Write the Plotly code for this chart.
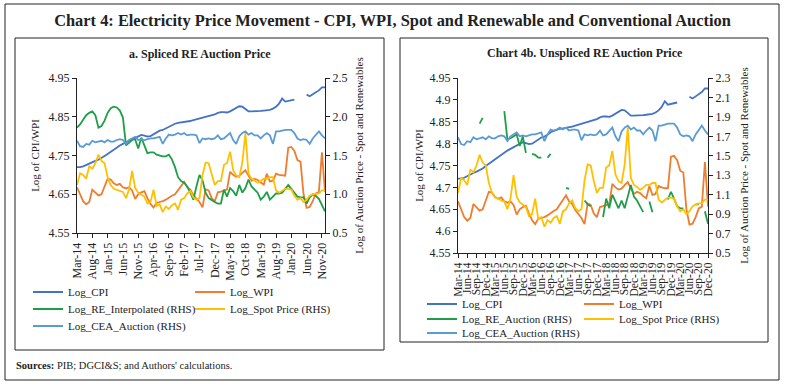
import plotly.graph_objects as go
import pandas as pd

W, H = 785, 386

# ---------------- data ----------------
months = pd.date_range("2014-03-01", "2020-12-01", freq="MS").strftime("%b-%y").tolist()

log_cpi = [4.720, 4.720, 4.722, 4.726, 4.730, 4.733, 4.736, 4.739, 4.743, 4.749,
           4.754, 4.760, 4.766, 4.771, 4.776, 4.780, 4.784, 4.788, 4.792, 4.796,
           4.800, 4.803, 4.801, 4.799, 4.800, 4.805, 4.810, 4.814, 4.816, 4.820,
           4.826, 4.829, 4.832, 4.834, 4.835, 4.836, 4.837, 4.839, 4.841, 4.843,
           4.845, 4.848, 4.849, 4.851, 4.853, 4.856, 4.860, 4.862, 4.862, 4.861,
           4.864, 4.868, 4.873, 4.877, 4.876, 4.870, 4.864, 4.864, 4.864, 4.864,
           4.865, 4.866, 4.867, 4.868, 4.871, 4.876, 4.884, 4.897, 4.889, 4.891,
           4.892, 4.894, None, None, None, 4.907, 4.903, 4.908, 4.913, 4.918,
           4.926, 4.926]

log_wpi = [4.668, 4.650, 4.632, 4.624, 4.630, 4.662, 4.655, 4.647, 4.650, 4.672,
           4.690, 4.688, 4.678, 4.674, 4.677, 4.668, 4.665, 4.668, 4.660, 4.638,
           4.650, 4.655, 4.658, 4.640, 4.625, 4.616, 4.628, 4.630, 4.632, 4.636,
           4.642, 4.646, 4.650, 4.660, 4.672, 4.682, 4.668, 4.662, 4.648, 4.640,
           4.630, 4.616, 4.663, 4.660, 4.640, 4.632, 4.655, 4.657, 4.660, 4.662,
           4.708, 4.700, 4.695, 4.697, 4.705, 4.712, 4.698, 4.685, 4.690, 4.687,
           4.680, 4.675, 4.703, 4.683, 4.685, 4.703, 4.700, 4.698, 4.698, 4.770,
           4.772, 4.762, 4.738, 4.734, 4.650, 4.615, 4.617, 4.632, 4.652, 4.656,
           4.758, 4.656]

log_re_interpolated = [1.86, 1.90, 1.96, 2.02, 2.05, 2.07, 2.02, 1.86, 1.88, 1.95,
                       2.05, 2.11, 2.13, 2.12, 2.08, 1.99, 1.63, 1.66, 1.70, 1.71,
                       1.59, 1.73, 1.62, 1.53, 1.54, 1.54, 1.51, 1.50, 1.49, 1.49,
                       1.51, 1.45, 1.35, 1.22, 1.17, 1.15, 1.10, 1.02, 0.93, 1.10,
                       1.25, 1.18, 1.02, 0.95, 0.92, 0.90, 0.88, 0.88, 1.06, 0.97,
                       1.08, 1.04, 0.98, 1.12, 1.02, 1.08, 1.19, 1.10, 1.06, 1.02,
                       0.93, 0.97, 1.03, 0.93, 0.97, 1.01, 1.01, 1.02, 1.07, 1.12,
                       1.07, 1.02, 0.97, 0.96, 0.96, 0.88, 0.96, 1.00, 0.98, 0.94,
                       0.86, 0.78]

N = None
log_re_auction = [N, N, N, N, N, N, N, 1.83, 1.89, N,
                  N, N, N, N, N, 1.96, 1.67, 1.68, 1.70, 1.72,
                  1.60, 1.70, 1.53, N, 1.52, 1.51, 1.48, 1.48, N, 1.48,
                  1.52, N, N, N, N, 1.17, 1.16, N, N, N,
                  N, 1.04, 1.00, 0.98, N, N, N, 0.87, 1.06, 0.96,
                  1.10, 1.03, 0.96, 1.04, 0.96, 1.08, 1.20, 1.08, 1.04, 0.98,
                  0.92, N, 1.03, 0.92, N, N, N, N, 1.05, 1.13,
                  1.06, 0.98, 0.96, 0.96, N, N, N, 1.00, 1.00, N,
                  0.93, 0.80]

log_spot = [1.12, 1.27, 1.25, 1.20, 1.36, 1.33, 1.40, 1.51, 1.43, 1.40,
            1.22, 1.12, 1.07, 1.06, 1.04, 1.03, 0.95, 1.06, 1.30, 1.08,
            1.02, 1.00, 0.97, 0.88, 0.90, 1.06, 0.85, 0.87, 0.77, 0.84,
            0.81, 0.86, 0.88, 0.80, 0.93, 0.95, 1.01, 1.04, 0.96, 0.93,
            0.95, 1.25, 1.41, 1.40, 1.24, 1.12, 1.17, 1.17, 1.38, 1.40,
            1.55, 1.31, 1.24, 1.22, 1.41, 1.79, 1.27, 1.20, 1.18, 1.15,
            1.17, 1.20, 1.20, 1.22, 1.22, 1.05, 1.02, 1.05, 1.07, 1.07,
            1.06, 0.98, 0.93, 0.95, 0.90, 0.93, 0.98, 1.00, 1.01, 1.01,
            1.05, 1.05]

log_cea = [1.69, 1.62, 1.61, 1.65, 1.64, 1.69, 1.67, 1.68, 1.69, 1.67,
           1.70, 1.68, 1.68, 1.70, 1.71, 1.70, 1.65, 1.70, 1.72, 1.74,
           1.70, 1.71, 1.70, 1.71, 1.72, 1.72, 1.73, 1.74, 1.65, 1.72,
           1.77, 1.76, 1.77, 1.79, 1.77, 1.79, 1.76, 1.77, 1.77, 1.76,
           1.66, 1.72, 1.71, 1.72, 1.71, 1.72, 1.76, 1.71, 1.72, 1.76,
           1.79, 1.70, 1.65, 1.75, 1.79, 1.81, 1.77, 1.79, 1.76, 1.76,
           1.72, 1.76, 1.79, 1.76, 1.65, 1.81, 1.81, 1.82, 1.83, 1.83,
           1.83, 1.79, 1.72, 1.70, 1.71, 1.70, 1.65, 1.72, 1.76, 1.81,
           1.76, 1.72]

left_ticks = months[::5]
right_ticks = months[::3]

# ---------------- styling ----------------
C_CPI, C_WPI, C_RE, C_SPOT, C_CEA = "#4472C4", "#ED7D31", "#1E9E48", "#FFC000", "#5B9BD5"
FONT = "Liberation Serif"
LW = 1.8


def px(x):
    return x / W


def py(y):
    return 1 - y / H


fig = go.Figure()

# left panel
fig.add_trace(go.Scatter(x=months, y=log_cpi, name="Log_CPI", mode="lines",
                         line=dict(color=C_CPI, width=LW), xaxis="x", yaxis="y", legend="legend"))
fig.add_trace(go.Scatter(x=months, y=log_wpi, name="Log_WPI", mode="lines",
                         line=dict(color=C_WPI, width=LW), xaxis="x", yaxis="y", legend="legend"))
fig.add_trace(go.Scatter(x=months, y=log_re_interpolated, name="Log_RE_Interpolated (RHS)", mode="lines",
                         line=dict(color=C_RE, width=LW), xaxis="x", yaxis="y2", legend="legend2"))
fig.add_trace(go.Scatter(x=months, y=log_spot, name="Log_Spot Price (RHS)", mode="lines",
                         line=dict(color=C_SPOT, width=LW), xaxis="x", yaxis="y2", legend="legend2"))
fig.add_trace(go.Scatter(x=months, y=log_cea, name="Log_CEA_Auction (RHS)", mode="lines",
                         line=dict(color=C_CEA, width=LW), xaxis="x", yaxis="y2", legend="legend3"))

# right panel
fig.add_trace(go.Scatter(x=months, y=log_cpi, name="Log_CPI", mode="lines",
                         line=dict(color=C_CPI, width=LW), xaxis="x2", yaxis="y3", legend="legend4"))
fig.add_trace(go.Scatter(x=months, y=log_wpi, name="Log_WPI", mode="lines",
                         line=dict(color=C_WPI, width=LW), xaxis="x2", yaxis="y3", legend="legend4"))
fig.add_trace(go.Scatter(x=months, y=log_re_auction, name="Log_RE_Auction (RHS)", mode="lines",
                         line=dict(color=C_RE, width=LW), xaxis="x2", yaxis="y4", legend="legend5"))
fig.add_trace(go.Scatter(x=months, y=log_spot, name="Log_Spot Price (RHS)", mode="lines",
                         line=dict(color=C_SPOT, width=LW), xaxis="x2", yaxis="y4", legend="legend5"))
fig.add_trace(go.Scatter(x=months, y=log_cea, name="Log_CEA_Auction (RHS)", mode="lines",
                         line=dict(color=C_CEA, width=LW), xaxis="x2", yaxis="y4", legend="legend6"))

axis_common = dict(showline=True, linecolor="#222", linewidth=1, ticks="outside", ticklen=4,
                   tickcolor="#222", showgrid=False, zeroline=False, fixedrange=True, automargin=False,
                   tickfont=dict(family=FONT, size=12, color="#222"))
title_font = dict(family=FONT, size=11, color="#222")

fig.update_layout(
    width=W, height=H,
    margin=dict(l=0, r=0, t=0, b=0, autoexpand=False),
    paper_bgcolor="white", plot_bgcolor="rgba(0,0,0,0)",
    font=dict(family=FONT, color="#222"),
    hovermode=False,
    title=dict(text="<b>Chart 4: Electricity Price Movement - CPI, WPI, Spot and Renewable and Conventional Auction</b>",
               x=0.5, xanchor="center", xref="container", y=py(20), yanchor="middle", yref="container",
               font=dict(family=FONT, size=16.4, color="#222")),
    xaxis=dict(axis_common, domain=[px(77), px(325)], anchor="y", type="category",
               range=[0, 81], tickmode="array", tickvals=left_ticks, ticktext=left_ticks, tickangle=-90),
    yaxis=dict(axis_common, domain=[py(233), py(78)], anchor="x", range=[4.55, 4.95],
               tickmode="array", tickvals=[4.55, 4.65, 4.75, 4.85, 4.95], tickformat=".2f",
               title=dict(text="Log of CPI/WPI", font=title_font, standoff=6)),
    yaxis2=dict(axis_common, domain=[py(233), py(78)], anchor="x", overlaying="y", side="right",
                range=[0.5, 2.5], tickmode="array", tickvals=[0.5, 1.0, 1.5, 2.0, 2.5], tickformat=".1f",
                title=dict(text="Log of Auction Price - Spot and Renewables", font=title_font, standoff=8)),
    xaxis2=dict(axis_common, domain=[px(458), px(708)], anchor="y3", type="category",
                range=[0, 81], tickmode="array", tickvals=right_ticks, ticktext=right_ticks, tickangle=-90,
                tickfont=dict(family=FONT, size=11.5, color="#222")),
    yaxis3=dict(axis_common, domain=[py(253), py(78)], anchor="x2", range=[4.55, 4.95],
                tickmode="array", tickvals=[4.55, 4.6, 4.65, 4.7, 4.75, 4.8, 4.85, 4.9, 4.95],
                ticktext=["4.55", "4.6", "4.65", "4.7", "4.75", "4.8", "4.85", "4.9", "4.95"],
                title=dict(text="Log of CPI/WPI", font=title_font, standoff=3)),
    yaxis4=dict(axis_common, domain=[py(253), py(78)], anchor="x2", overlaying="y3", side="right",
                range=[0.5, 2.3], tickmode="array",
                tickvals=[0.5, 0.7, 0.9, 1.1, 1.3, 1.5, 1.7, 1.9, 2.1, 2.3], tickformat=".1f",
                title=dict(text="Log of Auction Price - Spot and Renewables", font=title_font, standoff=10)),
)

leg_common = dict(orientation="h", xanchor="left", yanchor="middle", bgcolor="rgba(0,0,0,0)",
                  borderwidth=0, font=dict(family=FONT, size=11, color="#222"),
                  entrywidthmode="pixels", traceorder="normal", itemclick=False, itemdoubleclick=False)
fig.update_layout(
    legend=dict(leg_common, x=px(28), y=py(292), entrywidth=117),
    legend2=dict(leg_common, x=px(28), y=py(309), entrywidth=117),
    legend3=dict(leg_common, x=px(28), y=py(326), entrywidth=200),
    legend4=dict(leg_common, x=px(422), y=py(304), entrywidth=112),
    legend5=dict(leg_common, x=px(422), y=py(319), entrywidth=112),
    legend6=dict(leg_common, x=px(422), y=py(333), entrywidth=200),
)

# frames
frame = dict(type="rect", xref="paper", yref="paper", line=dict(color="#222", width=1), fillcolor="rgba(0,0,0,0)")
fig.add_shape(frame, x0=px(5), x1=px(779), y0=py(4), y1=py(380))
fig.add_shape(frame, x0=px(15), x1=px(384), y0=py(38), y1=py(350))
fig.add_shape(frame, x0=px(400), x1=px(768), y0=py(38), y1=py(342))

# panel titles and source
fig.add_annotation(text="<b>a. Spliced RE Auction Price</b>", xref="paper", yref="paper",
                   x=px(200), y=py(54), xanchor="center", yanchor="middle", showarrow=False,
                   font=dict(family=FONT, size=12, color="#222"))
fig.add_annotation(text="<b>Chart 4b. Unspliced RE Auction Price</b>", xref="paper", yref="paper",
                   x=px(585), y=py(53), xanchor="center", yanchor="middle", showarrow=False,
                   font=dict(family=FONT, size=12, color="#222"))
fig.add_annotation(text="<b>Sources:</b> PIB; DGCI&amp;S; and Authors' calculations.", xref="paper", yref="paper",
                   x=px(14), y=py(365), xanchor="left", yanchor="middle", showarrow=False,
                   font=dict(family=FONT, size=10.5, color="#222"))

fig.write_html("out.html", config={"displayModeBar": False, "staticPlot": False},
               post_script="document.body.style.margin='0px';document.body.style.overflow='hidden';")
